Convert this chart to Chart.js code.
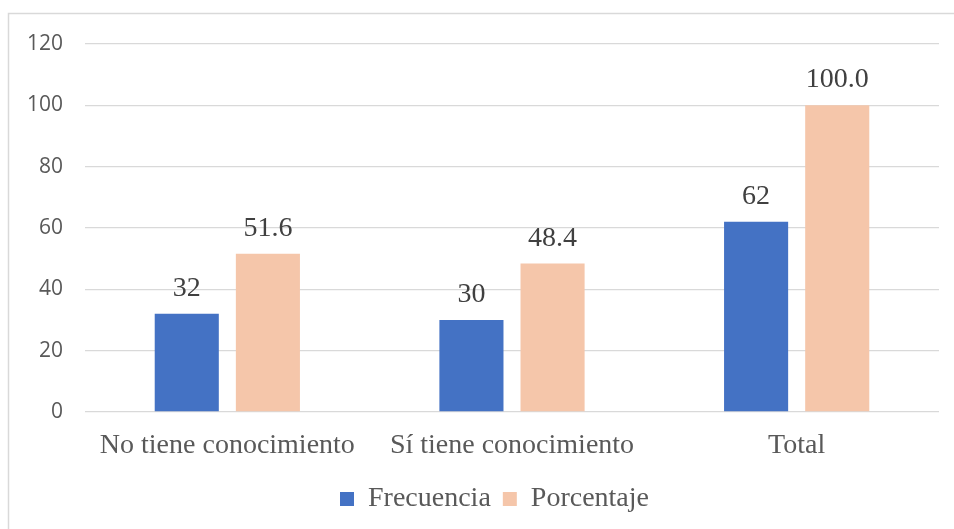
<!DOCTYPE html>
<html lang="es">
<head>
<meta charset="utf-8">
<title>Conocimiento</title>
<script src="https://cdn.jsdelivr.net/npm/chart.js@4/dist/chart.umd.min.js"></script>
<style>
  html, body { margin: 0; padding: 0; background: #fff; }
  #wrap { width: 954px; height: 529px; position: relative; }
</style>
</head>
<body>
<div id="wrap"><canvas id="chart" width="954" height="529"></canvas></div>
<script>
// Datos del gráfico
const categorias = ['No tiene conocimiento', 'Sí tiene conocimiento', 'Total'];
const frecuencia = [32, 30, 62];
const porcentaje = [51.6, 48.4, 100.0];
const etiquetasFrecuencia = ['32', '30', '62'];
const etiquetasPorcentaje = ['51.6', '48.4', '100.0'];

const SERIF = '"Liberation Serif", "Times New Roman", serif';
const SANS = '"Open Sans", "Liberation Sans", sans-serif';

// Marco exterior (solo borde superior e izquierdo visibles)
const marco = {
  id: 'marco',
  beforeDraw(chart) {
    const ctx = chart.ctx;
    ctx.save();
    ctx.strokeStyle = '#D9D9D9';
    ctx.lineWidth = 1.5;
    ctx.beginPath();
    ctx.moveTo(8.5, chart.height);
    ctx.lineTo(8.5, 13.5);
    ctx.lineTo(chart.width, 13.5);
    ctx.stroke();
    ctx.restore();
  }
};

// La leyenda va centrada respecto al área de trazado, no al lienzo
const leyendaDesplazada = {
  id: 'leyendaDesplazada',
  afterLayout(chart) {
    if (!chart.legend) return;
    chart.legend.left += 20;
    chart.legend.right += 20;
  }
};

// Valores encima de cada barra
const etiquetasValor = {
  id: 'etiquetasValor',
  afterDatasetsDraw(chart) {
    const ctx = chart.ctx;
    const textos = [etiquetasFrecuencia, etiquetasPorcentaje];
    ctx.save();
    ctx.font = '28px ' + SERIF;
    ctx.fillStyle = '#404040';
    ctx.textAlign = 'center';
    ctx.textBaseline = 'alphabetic';
    chart.data.datasets.forEach((ds, i) => {
      chart.getDatasetMeta(i).data.forEach((bar, j) => {
        ctx.fillText(textos[i][j], bar.x, bar.y - 18);
      });
    });
    ctx.restore();
  }
};

new Chart(document.getElementById('chart'), {
  type: 'bar',
  data: {
    labels: categorias,
    datasets: [
      {
        label: 'Frecuencia',
        data: frecuencia,
        backgroundColor: '#4472C4',
        categoryPercentage: 0.57,
        barPercentage: 0.79
      },
      {
        label: 'Porcentaje',
        data: porcentaje,
        backgroundColor: '#F5C6AA',
        categoryPercentage: 0.57,
        barPercentage: 0.79
      }
    ]
  },
  options: {
    responsive: false,
    animation: false,
    layout: {
      padding: { left: 10, right: 15, top: 44, bottom: 6 }
    },
    plugins: {
      tooltip: { enabled: false },
      legend: {
        position: 'bottom',
        labels: {
          font: { family: SERIF, size: 28 },
          color: '#595959',
          boxWidth: 14,
          boxHeight: 14,
          padding: 12
        }
      }
    },
    scales: {
      x: {
        grid: { display: false, drawTicks: false },
        border: { display: false },
        ticks: {
          font: { family: SERIF, size: 28 },
          color: '#595959',
          padding: 17,
          maxRotation: 0
        },
        afterFit(scale) { scale.height = 61; }
      },
      y: {
        min: 0,
        max: 120,
        ticks: {
          stepSize: 20,
          font: { family: SANS, size: 21 },
          color: '#595959',
          padding: 22
        },
        grid: { color: '#D9D9D9', lineWidth: 1.3, drawTicks: false },
        border: { display: false },
        afterFit(scale) { scale.width = 75; }
      }
    }
  },
  plugins: [marco, leyendaDesplazada, etiquetasValor]
});
</script>
</body>
</html>
